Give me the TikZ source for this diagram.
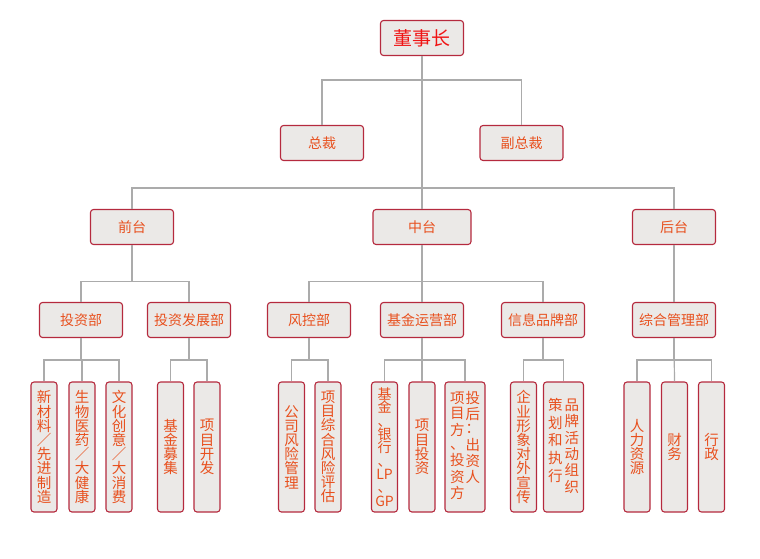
\documentclass[tikz,border=0pt]{standalone}
\usepackage{fontspec}
\setmainfont{Noto Sans CJK SC}
\definecolor{BoxFill}{HTML}{EBE9E7}
\definecolor{BoxLine}{HTML}{B52A3E}
\definecolor{LinkGray}{HTML}{ABABAB}
\definecolor{LabelRed}{HTML}{E8501E}
\definecolor{TopRed}{HTML}{F01414}
\tikzset{Unit/.style={%
    shape=rectangle,%
    draw=BoxLine,%
    fill=BoxFill,%
    rounded corners=3pt,%
    line width=1.1pt,%
    text=LabelRed,%
    inner sep=0pt,%
    font=\fontsize{14}{16}\selectfont,%
    minimum width=83pt,%
    minimum height=35pt,%
}}
\tikzset{TopUnit/.style={%
    Unit,%
    text=TopRed,%
    font=\fontsize{19}{22}\selectfont,%
}}
\tikzset{Post/.style={%
    Unit,%
    align=center,%
    minimum width=26pt,%
    minimum height=130pt,%
    font=\fontsize{14.5}{14.2}\selectfont,%
}}
\tikzset{WidePost/.style={%
    Post,%
    minimum width=40pt,%
}}
\tikzset{Link/.style={%
    draw=LinkGray,%
    line width=1.2pt,%
}}
\NewDocumentCommand{\charColumn}{O{1} m}{%
    {\renewcommand{\arraystretch}{#1}%
    \begin{tabular}[t]{@{}c@{}}#2\end{tabular}}%
}

\begin{document}
\begin{tikzpicture}[x=1pt, y=-1pt]
    \useasboundingbox (0,0) rectangle (760,558);

    \node[TopUnit] (s0) at (422,38) {董事长};
    \node[Unit] (s10) at (322,143) {总裁};
    \node[Unit] (s11) at (521.5,143) {副总裁};

    \node[Unit] (s20) at (132,227) {前台};
    \node[Unit, minimum width=98pt] (s21) at (422,227) {中台};
    \node[Unit] (s22) at (674,227) {后台};

    \node[Unit] (s30) at (81,320) {投资部};
    \node[Unit] (s31) at (189,320) {投资发展部};
    \node[Unit] (s32) at (309,320) {风控部};
    \node[Unit] (s33) at (422,320) {基金运营部};
    \node[Unit] (s34) at (543,320) {信息品牌部};
    \node[Unit] (s35) at (674,320) {综合管理部};

    \node[Post] (p1) at (44,447) {新\\材\\料\\／\\先\\进\\制\\造};
    \node[Post] (p2) at (82,447) {生\\物\\医\\药\\／\\大\\健\\康};
    \node[Post] (p3) at (119,447) {文\\化\\创\\意\\／\\大\\消\\费};
    \node[Post] (p4) at (170.5,447) {基\\金\\募\\集};
    \node[Post] (p5) at (207,447) {项\\目\\开\\发};
    \node[Post] (p6) at (291.5,447) {公\\司\\风\\险\\管\\理};
    \node[Post] (p7) at (328,447) {项\\目\\综\\合\\风\\险\\评\\估};
    \node[Post, font=\fontsize{14}{13.3}\selectfont] (p8) at (384.5,447) {基\\金\\、\\银\\行\\、\\LP\\、\\GP};
    \node[Post] (p9) at (422,447) {项\\目\\投\\资};
    \node[WidePost] (p10) at (465,447) {\charColumn{项\\目\\方\\、\\投\\资\\方}\hspace{1pt}\charColumn{投\\后\\：\\出\\资\\人}};
    \node[Post] (p11) at (523.5,447) {企\\业\\形\\象\\对\\外\\宣\\传};
    \node[WidePost] (p12) at (563.5,447) {\charColumn[1.26]{策\\划\\和\\执\\行}\hspace{2pt}\charColumn{品\\牌\\活\\动\\组\\织}};
    \node[Post] (p13) at (637,447) {人\\力\\资\\源};
    \node[Post] (p14) at (674.5,447) {财\\务};
    \node[Post] (p15) at (711.5,447) {行\\政};

    % top levels
    \draw[Link] (s0.south) -- ++(0,24) -| (s10.north);
    \draw[Link] (s0.south) -- ++(0,24) -| (s11.north);
    \draw[Link] (s0.south) -- ++(0,132) -| (s20.north);
    \draw[Link] (s0.south) -- (s21.north);
    \draw[Link] (s0.south) -- ++(0,132) -| (s22.north);

    \draw[Link] (s20.south) -- ++(0,36.5) -| (s30.north);
    \draw[Link] (s20.south) -- ++(0,36.5) -| (s31.north);
    \draw[Link] (s21.south) -- ++(0,36.5) -| (s32.north);
    \draw[Link] (s21.south) -- (s33.north);
    \draw[Link] (s21.south) -- ++(0,36.5) -| (s34.north);
    \draw[Link] (s22.south) -- (s35.north);

    % departments
    \draw[Link] (s30.south) -- ++(0,22) -| (p1.north);
    \draw[Link] (s30.south) -- ++(0,22) -| (p2.north);
    \draw[Link] (s30.south) -- ++(0,22) -| (p3.north);
    \draw[Link] (s31.south) -- ++(0,22) -| (p4.north);
    \draw[Link] (s31.south) -- ++(0,22) -| (p5.north);
    \draw[Link] (s32.south) -- ++(0,22) -| (p6.north);
    \draw[Link] (s32.south) -- ++(0,22) -| (p7.north);
    \draw[Link] (s33.south) -- ++(0,22) -| (p8.north);
    \draw[Link] (s33.south) -- (p9.north);
    \draw[Link] (s33.south) -- ++(0,22) -| (p10.north);
    \draw[Link] (s34.south) -- ++(0,22) -| (p11.north);
    \draw[Link] (s34.south) -- ++(0,22) -| (p12.north);
    \draw[Link] (s35.south) -- ++(0,22) -| (p13.north);
    \draw[Link] (s35.south) -- (p14.north);
    \draw[Link] (s35.south) -- ++(0,22) -| (p15.north);
\end{tikzpicture}
\end{document}
